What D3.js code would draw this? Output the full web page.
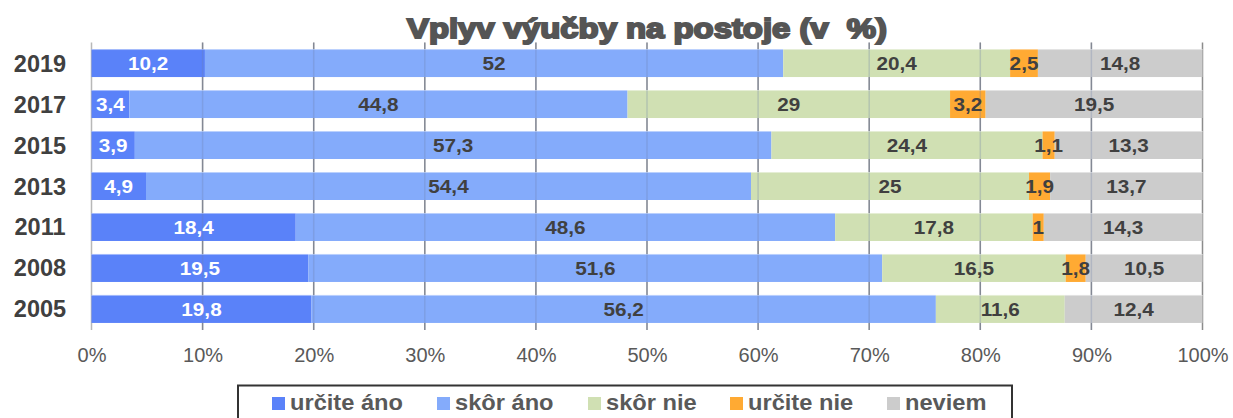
<!DOCTYPE html>
<html><head><meta charset="utf-8">
<script src="https://cdn.jsdelivr.net/npm/d3@7"></script>
<style>body{margin:0;background:#fff}svg{display:block}</style>
</head><body>
<svg id="c" width="1233" height="418"></svg>
<script>
const years = ["2019","2017","2015","2013","2011","2008","2005"];
const seriesNames = ["určite áno","skôr áno","skôr nie","určite nie","neviem"];
const urciteAno = [10.2, 3.4, 3.9, 4.9, 18.4, 19.5, 19.8];
const skorAno   = [52, 44.8, 57.3, 54.4, 48.6, 51.6, 56.2];
const skorNie   = [20.4, 29, 24.4, 25, 17.8, 16.5, 11.6];
const urciteNie = [2.5, 3.2, 1.1, 1.9, 1, 1.8, 0];
const neviem    = [14.8, 19.5, 13.3, 13.7, 14.3, 10.5, 12.4];
const tickValues = [0,10,20,30,40,50,60,70,80,90,100];
const title = "Vplyv výučby na postoje (v  %)";

const seriesValues = [urciteAno, skorAno, skorNie, urciteNie, neviem];
const colors = ["#5a82f9","#84abfb","#d0e0b3","#ffaa33","#cccccc"];
const labelColors = ["#ffffff","#404040","#404040","#404040","#404040"];

const svg = d3.select("#c");
const x = d3.scaleLinear().domain([0,100]).range([91.5,1202.5]);
const y = d3.scaleBand().domain(years).range([42.5,329.5]).paddingInner(0.317).paddingOuter(0.16);

// rows normalized to 100%
const rows = years.map((yr,i)=>{
  const vals = seriesValues.map(s=>s[i]);
  const tot = d3.sum(vals);
  let acc = 0;
  return vals.map((v,k)=>{ const a = acc/tot*100; acc += v; return {yr, k, v, x0:a, x1:acc/tot*100}; });
});

const yTop = 42.5, yBot = 330;
// gridlines behind
svg.append("g").selectAll("line").data(tickValues).join("line")
  .attr("x1",d=>x(d)).attr("x2",d=>x(d)).attr("y1",yTop).attr("y2",yBot)
  .attr("stroke",d=>d===0?"#b8b8b8":"#8c8c8c").attr("stroke-width",1.5);

// bars
const g = svg.append("g");
rows.forEach(r=>{
  g.selectAll(null).data(r.filter(d=>d.v>0)).join("rect")
    .attr("x",d=>x(d.x0)).attr("width",d=>x(d.x1)-x(d.x0))
    .attr("y",d=>y(d.yr)).attr("height",y.bandwidth())
    .attr("fill",d=>colors[d.k]);
  g.selectAll(null).data(r.filter(d=>d.v>0)).join("line")
    .attr("x1",d=>x(d.x0)).attr("x2",d=>x(d.x1))
    .attr("y1",d=>y(d.yr)+0.5).attr("y2",d=>y(d.yr)+0.5)
    .attr("stroke","#ffffff").attr("stroke-opacity",0.45);
});

// gridlines over bars (faint)
svg.append("g").selectAll("line").data(tickValues.filter(d=>d>0 && d<100)).join("line")
  .attr("x1",d=>x(d)).attr("x2",d=>x(d)).attr("y1",yTop).attr("y2",yBot)
  .attr("stroke","#6a7ea8").attr("stroke-opacity",0.28).attr("stroke-width",1.5);

// data labels
const fmt = v => String(v).replace(".",",");
rows.forEach(r=>{
  svg.append("g").selectAll("text").data(r.filter(d=>d.v>0)).join("text")
    .attr("transform",d=>`translate(${x((d.x0+d.x1)/2)},${y(d.yr)+y.bandwidth()/2+7}) scale(1.12,1)`)
    .attr("text-anchor","middle")
    .attr("font-family","Liberation Sans, Arial, sans-serif")
    .attr("font-weight","bold").attr("font-size",18.5)
    .attr("fill",d=>labelColors[d.k])
    .text(d=>fmt(d.v));
});

// y labels
svg.append("g").selectAll("text").data(years).join("text")
  .attr("x",40).attr("y",d=>y(d)+y.bandwidth()/2+8.5)
  .attr("text-anchor","middle")
  .attr("font-family","Liberation Sans, Arial, sans-serif")
  .attr("font-weight","bold").attr("font-size",23.5)
  .attr("fill","#404040").text(d=>d);

// x axis tick labels
const xAxis = d3.axisBottom(x).tickValues(tickValues).tickFormat(d=>d+"%").tickSize(0).tickPadding(0);
const ax = svg.append("g").attr("transform","translate(0,362)").call(xAxis);
ax.select(".domain").remove();
ax.selectAll("text").attr("dy",0).attr("y",0)
  .attr("font-family","Liberation Sans, Arial, sans-serif").attr("font-size",20)
  .attr("fill","#595959");

// title
svg.append("text").attr("x",647).attr("y",38).attr("text-anchor","middle")
  .attr("font-family","Liberation Sans, Arial, sans-serif").attr("font-weight","bold")
  .attr("font-size",28).attr("fill","#555").attr("stroke","#555").attr("stroke-width",2)
  .attr("textLength",480).attr("lengthAdjust","spacingAndGlyphs")
  .style("white-space","pre")
  .text(title);

// legend
svg.append("rect").attr("x",238).attr("y",385.5).attr("width",774).attr("height",40)
  .attr("fill","#fff").attr("stroke","#333").attr("stroke-width",2);
const legX = [272,437,588,730,887];
const lg = svg.append("g").selectAll("g").data(seriesNames).join("g")
  .attr("transform",(d,i)=>`translate(${legX[i]},397)`);
lg.append("rect").attr("width",13).attr("height",13).attr("fill",(d,i)=>colors[i]);
lg.append("text").attr("transform","translate(18,13) scale(1.1,1)")
  .attr("font-family","Liberation Sans, Arial, sans-serif").attr("font-weight","bold")
  .attr("font-size",21.5).attr("fill","#595959").text(d=>d);
</script>
</body></html>
